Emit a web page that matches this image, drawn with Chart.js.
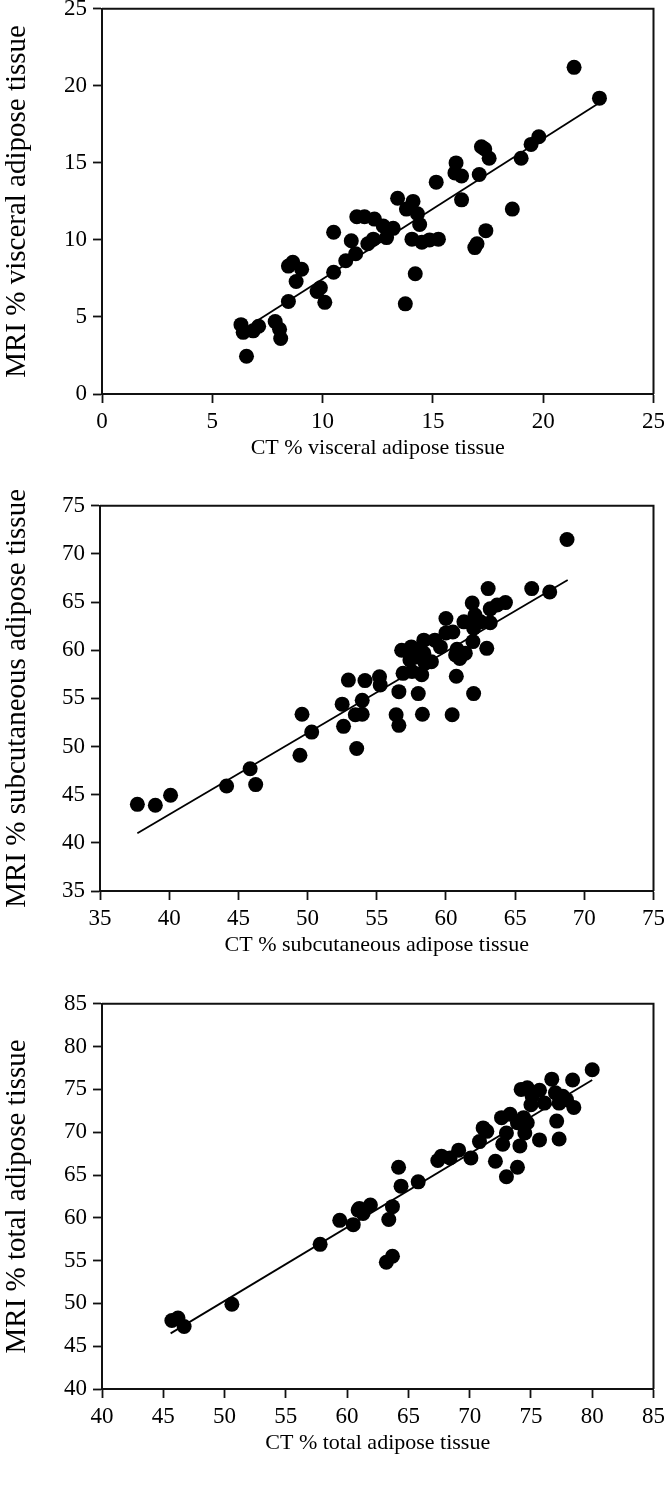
<!DOCTYPE html>
<html>
<head>
<meta charset="utf-8">
<script src="https://cdn.jsdelivr.net/npm/chart.js@4/dist/chart.umd.min.js"></script>
<style>
  html, body { margin: 0; padding: 0; background: #fff; overflow: hidden; }
  body { width: 664px; height: 1487px; position: relative; }
  .panel { position: absolute; left: 0; }
</style>
</head>
<body>
<div class="panel" style="top:-11px"><canvas id="chartVisceral" width="670" height="481"></canvas></div>
<div class="panel" style="top:486px"><canvas id="chartSubcut" width="670" height="481"></canvas></div>
<div class="panel" style="top:984px"><canvas id="chartTotal" width="670" height="481"></canvas></div>
<script>
// Visceral adipose tissue (CT vs MRI)
const ctVisceral = [6.3, 6.4, 6.85, 7.1, 6.55, 7.85, 8.05, 8.1, 8.45, 8.45, 8.65, 9.05, 8.8, 9.75, 9.9, 10.1, 10.5, 10.5,
  11.05, 11.3, 11.5, 11.55, 11.9, 12.05, 12.3, 12.35, 12.75, 12.9, 13.2, 13.4, 13.8, 14.1, 14.3, 14.4, 14.05, 14.5,
  14.85, 15.25, 14.2, 13.75, 15.15, 16.05, 16.0, 16.3, 16.3, 17.0, 16.9, 17.4, 17.1, 17.2, 17.35, 17.55, 18.6, 19.0,
  19.45, 19.8, 21.4, 22.55];
const mriVisceral = [4.5, 4.0, 4.1, 4.4, 2.45, 4.7, 4.2, 3.6, 6.0, 8.3, 8.55, 8.1, 7.3, 6.65, 6.9, 5.95, 7.9, 10.5,
  8.65, 9.95, 9.1, 11.5, 11.5, 9.75, 10.05, 11.35, 10.9, 10.15, 10.75, 12.7, 12.0, 12.5, 11.7, 11.0, 10.05, 9.85,
  10.0, 10.05, 7.8, 5.85, 13.75, 15.0, 14.35, 14.15, 12.6, 9.75, 9.5, 10.6, 14.25, 16.05, 15.9, 15.3, 12.0, 15.3,
  16.2, 16.7, 21.2, 19.2];
const fitVisceralX = [6.8, 22.55];
const fitVisceralY = [4.55, 18.9];

// Subcutaneous adipose tissue
const ctSubcut = [37.7, 39.0, 40.1, 44.15, 45.85, 46.25, 49.45, 49.6, 50.3, 52.5, 52.6, 52.95, 53.55, 53.45, 53.95,
  53.95, 54.15, 55.2, 55.25, 56.4, 56.6, 56.6, 56.8, 56.9, 57.4, 57.5, 57.55, 57.9, 58.0, 58.0, 58.25, 58.3, 58.4,
  58.4, 58.5, 58.95, 59.2, 59.6, 60.0, 60.0, 60.45, 60.5, 60.75, 60.7, 60.8, 61.0, 61.3, 61.4, 61.9, 61.95, 62.0,
  62.0, 62.1, 62.5, 62.95, 63.05, 63.2, 63.2, 63.7, 64.3, 66.2, 67.5, 68.75];
const mriSubcut = [44.0, 43.9, 44.95, 45.9, 47.7, 46.05, 49.1, 53.35, 51.5, 54.4, 52.1, 56.9, 49.8, 53.3, 53.35,
  54.8, 56.85, 57.25, 56.4, 53.3, 52.2, 55.7, 60.0, 57.6, 59.0, 60.35, 57.8, 59.3, 60.0, 55.5, 57.45, 53.35, 61.05,
  59.7, 58.65, 58.8, 61.05, 60.35, 61.8, 63.3, 53.3, 61.9, 57.3, 59.5, 60.1, 59.15, 62.95, 59.7, 64.9, 60.9, 62.3,
  55.5, 63.65, 62.95, 60.2, 66.4, 64.3, 62.85, 64.7, 64.95, 66.4, 66.05, 71.5];
const fitSubcutX = [37.7, 68.8];
const fitSubcutY = [41.0, 67.3];

// Total adipose tissue
const ctTotal = [45.7, 46.2, 46.7, 50.6, 57.8, 59.4, 60.5, 60.9, 61.3, 61.9, 61.0, 63.2, 63.7, 63.4, 63.7, 64.2,
  64.4, 65.8, 67.4, 67.7, 68.4, 69.1, 70.1, 70.8, 71.1, 71.4, 72.1, 72.6, 72.7, 73.0, 73.0, 73.3, 73.9, 73.9, 74.1,
  74.4, 74.5, 74.7, 74.2, 74.7, 75.0, 75.1, 75.7, 75.7, 76.1, 76.7, 77.0, 77.1, 77.3, 77.3, 77.6, 77.9, 78.4, 78.5, 80.0];
const mriTotal = [48.0, 48.3, 47.3, 49.9, 56.9, 59.7, 59.2, 60.9, 60.5, 61.5, 61.1, 54.8, 55.5, 59.8, 61.3, 65.9,
  63.7, 64.2, 66.7, 67.2, 67.0, 67.9, 67.0, 68.9, 70.5, 70.1, 66.6, 71.7, 68.6, 69.9, 64.8, 72.1, 71.1, 65.9, 68.4,
  71.7, 69.9, 71.1, 75.0, 75.2, 73.2, 74.2, 74.9, 69.1, 73.4, 76.2, 74.6, 71.3, 69.2, 73.4, 74.2, 73.8, 76.1, 72.9, 77.3];
const fitTotalX = [45.6, 80.0];
const fitTotalY = [46.5, 76.1];

const SERIF = "'Liberation Serif', 'Times New Roman', serif";
const INK = '#111';

// cierra el marco: lineas arriba y a la derecha del area
const marcoPlugin = {
  id: 'marco',
  afterDraw(chart) {
    const { left, top, right, bottom } = chart.chartArea;
    const ctx = chart.ctx;
    ctx.save();
    ctx.strokeStyle = INK;
    ctx.lineWidth = 2;
    ctx.beginPath();
    ctx.moveTo(left, top);
    ctx.lineTo(right, top);
    ctx.lineTo(right, bottom);
    ctx.stroke();
    ctx.restore();
  }
};

function toPoints(xs, ys) {
  return xs.map((x, i) => ({ x: x, y: ys[i] }));
}

function axis(min, max, title, titleSize, isX, left) {
  return {
    type: 'linear',
    min: min,
    max: max,
    ticks: {
      stepSize: 5,
      color: '#000',
      padding: isX ? 5 : 6,
      font: { family: SERIF, size: 23 }
    },
    grid: {
      drawOnChartArea: false,
      drawTicks: true,
      tickLength: 9,
      tickColor: INK,
      tickWidth: 1.8
    },
    border: { color: INK, width: 2 },
    title: {
      display: true,
      text: title,
      color: '#000',
      font: { family: SERIF, size: titleSize },
      padding: isX ? { top: 0, bottom: 9 } : { top: 0, bottom: 0 }
    },
    afterFit(scale) {
      if (isX) scale.height = 76;
      else scale.width = left;
    }
  };
}

function crearGrafica(id, xs, ys, fitX, fitY, min, max, xTitle, yTitle, left) {
  const ctx = document.getElementById(id).getContext('2d');
  return new Chart(ctx, {
    type: 'scatter',
    data: {
      datasets: [
        {
          type: 'line',
          data: toPoints(fitX, fitY),
          borderColor: '#000',
          borderWidth: 1.8,
          pointRadius: 0,
          fill: false
        },
        {
          data: toPoints(xs, ys),
          backgroundColor: '#000',
          borderColor: '#000',
          pointRadius: 7.5,
          pointBorderWidth: 0
        }
      ]
    },
    options: {
      responsive: false,
      animation: false,
      layout: { padding: { top: 19, right: 16, left: 0, bottom: 0 } },
      plugins: { legend: { display: false }, tooltip: { enabled: false } },
      scales: {
        x: axis(min, max, xTitle, 22, true, left),
        y: axis(min, max, yTitle, 29, false, left)
      }
    },
    plugins: [marcoPlugin]
  });
}

crearGrafica('chartVisceral', ctVisceral, mriVisceral, fitVisceralX, fitVisceralY, 0, 25,
  'CT % visceral adipose tissue', 'MRI % visceral adipose tissue', 102);
crearGrafica('chartSubcut', ctSubcut, mriSubcut, fitSubcutX, fitSubcutY, 35, 75,
  'CT % subcutaneous adipose tissue', 'MRI % subcutaneous adipose tissue', 100);
crearGrafica('chartTotal', ctTotal, mriTotal, fitTotalX, fitTotalY, 40, 85,
  'CT % total adipose tissue', 'MRI % total adipose tissue', 102);
</script>
</body>
</html>
